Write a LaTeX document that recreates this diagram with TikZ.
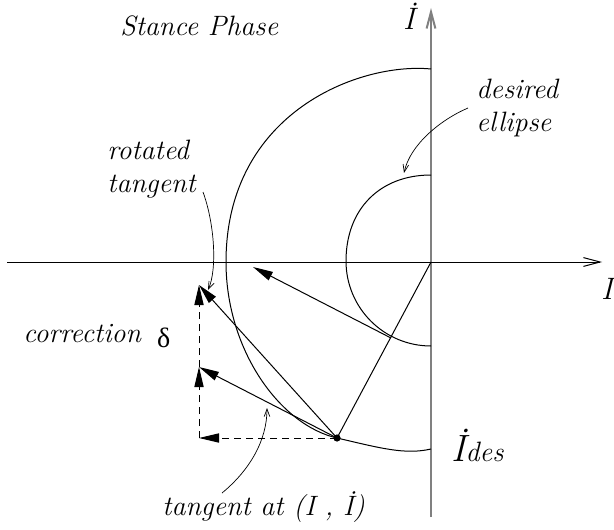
\documentclass[tikz,border=0pt]{standalone}
\usepackage{fontspec}
\newfontfamily\greekfont{Liberation Serif}
\usetikzlibrary{arrows.meta}

\begin{document}
\begin{tikzpicture}[
    x=0.5pt, y=-0.5pt,
    axis/.style={line width=0.5pt, -{Straight Barb[length=8.3pt, width=4.4pt]}},
    vaxis/.style={axis, draw=black!50, line width=1pt},
    curve/.style={line width=0.5pt},
    vec/.style={line width=0.5pt, -{Triangle[length=10pt, width=4.6pt]}},
    comp/.style={vec, dash pattern=on 3.5pt off 2.5pt},
    note/.style={line width=0.35pt, -{Straight Barb[length=3.8pt, width=2.8pt]}},
    txt/.style={font=\fontsize{14}{16.5}\selectfont\itshape, inner sep=0pt},
    axtxt/.style={font=\fontsize{15.5}{15.5}\selectfont\itshape, inner sep=0pt}
]
\path[use as bounding box] (0,0) rectangle (614,529);

% Axes
\coordinate (O) at (431,262);
\coordinate (xl) at (7,262);
\coordinate (xr) at (602,262);
\coordinate (yb) at (431,517);
\coordinate (yt) at (431,8);
\draw[vaxis] (yb) -- (yt);
\draw[axis] (xl) -- (xr);

% Desired ellipse
\draw[curve] (431,175) .. controls (380,175) and (346,209) .. (346,261)
    .. controls (346,308) and (384,346) .. (431,346);

% Stance trajectory
\coordinate (P) at (337,438);
\draw[curve] (431,69) .. controls (360,62) and (226,112) .. (226,262)
    .. controls (226,350) and (280,425) .. (P)
    .. controls (380,448) and (405,455) .. (431,449);

% Tangents and correction
\coordinate (tan) at (199,367);
\coordinate (rot) at (199,285);
\coordinate (corner) at (199,438);
\coordinate (T) at (391,338);
\coordinate (Ttip) at (253,267);

\draw[curve] (P) -- (O);
\draw[vec] (T) -- (Ttip);
\draw[vec] (P) -- (tan);
\draw[vec] (P) -- (rot);
\draw[comp] (P) -- (corner);
\draw[comp] (corner) -- (tan);
\draw[comp] (tan) -- (rot);
\fill (P) circle (1.8pt);

% Labels
\node[txt, anchor=base west] (phase) at (120,36) {Stance Phase};
\node[axtxt, anchor=base] (ldot) at (409,30) {İ};
\node[axtxt, anchor=base] (l) at (607,299) {I};
\node[txt, anchor=base west, align=left] (desired) at (476,132) {desired\\ellipse};
\node[txt, anchor=base west, align=left] (rotated) at (107,192) {rotated\\tangent};
\node[txt, anchor=base west] (corr) at (23,342)
    {correction\hspace{8pt}\raisebox{-2.5pt}{\upshape\greekfont δ}};
\node[txt, anchor=base west] (tanat) at (162,515) {tangent at (I , İ)};
\node[anchor=base west, inner sep=0pt] (ldes) at (451,461)
    {\fontsize{19}{19}\selectfont\itshape İ\fontsize{14}{14}\selectfont des};

% Pointers
\coordinate (dsA) at (468,108);
\coordinate (dsB) at (404,173);
\coordinate (rtA) at (203,192);
\coordinate (rtB) at (208,290);
\coordinate (taA) at (222,493);
\coordinate (taB) at (267,408);
\draw[note] (dsA) .. controls (440,120) and (410,145) .. (dsB);
\draw[note] (rtA) .. controls (215,225) and (217,270) .. (rtB);
\draw[note] (taA) .. controls (250,470) and (267,440) .. (taB);

\end{tikzpicture}
\end{document}
